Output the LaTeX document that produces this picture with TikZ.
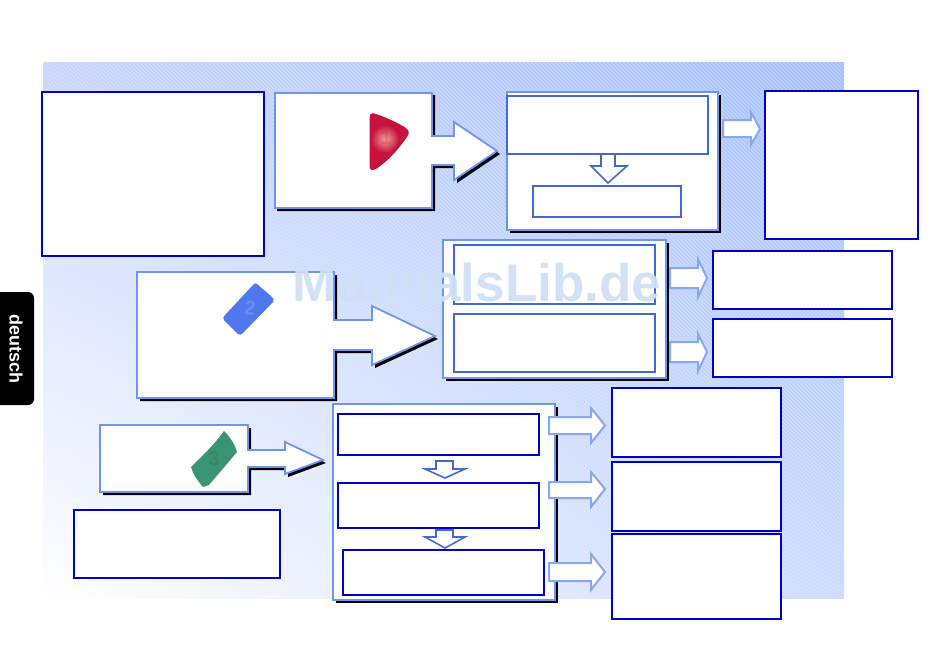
\documentclass[tikz,border=0pt]{standalone}
\usepackage{fontspec}
\setmainfont{Liberation Sans}
\usetikzlibrary{shadings}
\definecolor{panelblue}{HTML}{6E96EE}
\definecolor{smallblue}{HTML}{86A8F2}
\definecolor{innerblue}{HTML}{4468D8}
\definecolor{darkblue}{HTML}{0000C8}
\definecolor{wmpale}{HTML}{CFE0F6}
\definecolor{bgtl}{HTML}{C6D5FB}
\definecolor{bgtr}{HTML}{A6BFFA}
\definecolor{bgbr}{HTML}{CBD9FC}
\definecolor{redgem}{HTML}{C8123E}
\definecolor{redglow}{HTML}{EDA098}
\definecolor{bluegem}{HTML}{4F78F0}
\definecolor{greengem}{HTML}{3A9472}
\tikzset{
  darkbox/.style={draw=darkblue,line width=1.8pt,fill=white,inner sep=0pt,outer sep=0pt},
  innerbox/.style={draw=innerblue,line width=1.8pt,fill=white,inner sep=0pt,outer sep=0pt},
  panelbox/.style={draw=panelblue,line width=1.8pt,fill=white,inner sep=0pt,outer sep=0pt},
  arrowline/.style={draw=panelblue,line width=1.8pt,fill=white,line join=miter},
  smallarrow/.style={draw=smallblue,line width=2pt,fill=white,line join=miter},
  downarrow/.style={draw=innerblue,line width=1.6pt,fill=white,line join=miter},
  gemnum/.style={font=\bfseries\fontsize{20}{20}\selectfont,inner sep=0pt},
}
\newcommand{\bx}[6]{% style,name,x1,y1,x2,y2
  \pgfmathsetmacro{\bxw}{#5-#3}\pgfmathsetmacro{\bxh}{#6-#4}
  \node[#1,minimum width=\bxw pt,minimum height=\bxh pt,anchor=north west] (#2) at (#3,#4) {};}
\newcommand{\panelb}[5]{% name,x1,y1,x2,y2
  \fill[black] (#2+3,#3+3) rectangle (#4+3,#5+3);
  \bx{panelbox}{#1}{#2}{#3}{#4}{#5}}
\begin{document}
\begin{tikzpicture}[x=1pt,y=-1pt]
\useasboundingbox (0,0) rectangle (950,670);
% background
\shade[upper left=bgtl,upper right=bgtr,lower left=white,lower right=bgbr] (43,62) rectangle (844,598);
\begin{scope}
  \clip (43,62) rectangle (844,598);
  \foreach \k in {0,4,...,1340}{
    \draw[white,opacity=0.3,line width=1pt] (43+\k-536,62) -- (43+\k,598);
  }
\end{scope}
% tab
\fill[black,rounded corners=6pt] (-8,292) rectangle (34,405);
\node[rotate=-90,text=white,font=\bfseries\fontsize{18}{18}\selectfont,inner sep=0pt] (tabtext) at (16,349) {deutsch};
% text boxes
\bx{darkbox}{leftbox}{42}{92}{264}{256}
\bx{darkbox}{lowbox}{74}{510}{280}{578}
\bx{darkbox}{rightone}{765}{91}{918}{239}
\bx{darkbox}{righttwo}{713}{251}{892}{309}
\bx{darkbox}{rightthree}{713}{319}{892}{377}
\bx{darkbox}{resone}{612}{388}{781}{457}
\bx{darkbox}{restwo}{612}{462}{781}{531}
\bx{darkbox}{resthree}{612}{534}{781}{619}
% big arrow 1
\fill[black] (277,95)--(435,95)--(435,139)--(457,139)--(457,125)--(500,154)--(457,183)--(457,168)--(435,168)--(435,211)--(277,211)--cycle;
\draw[arrowline] (275,93)--(432,93)--(432,136)--(454,136)--(454,122)--(497,151)--(454,180)--(454,165)--(432,165)--(432,208)--(275,208)--cycle;
% big arrow 2
\fill[black] (140,275)--(337,275)--(337,323)--(375,323)--(375,309)--(438,339)--(375,368)--(375,353)--(337,353)--(337,401)--(140,401)--cycle;
\draw[arrowline] (137,272)--(334,272)--(334,320)--(372,320)--(372,306)--(435,336)--(372,365)--(372,350)--(334,350)--(334,398)--(137,398)--cycle;
% big arrow 3
\fill[black] (103,428)--(251,428)--(251,453)--(288,453)--(288,445)--(326,463)--(288,477)--(288,470)--(251,470)--(251,495)--(103,495)--cycle;
\draw[arrowline] (100,425)--(248,425)--(248,450)--(285,450)--(285,442)--(323,460)--(285,474)--(285,467)--(248,467)--(248,492)--(100,492)--cycle;
% gems
\fill[redgem] (369.5,118) .. controls (369.5,113) and (372,112.5) .. (376,114) .. controls (388,118) and (400,124) .. (406,128) .. controls (410,131) and (409,134) .. (407,137) .. controls (398,150) and (388,161) .. (376,169) .. controls (372,171) and (369.5,170) .. (369.5,166) -- cycle;
\shade[inner color=redglow,outer color=redgem] (385,139) circle (14);
\node[gemnum,text=redgem,opacity=0.22] (gemone) at (386,138) {1};
\fill[bluegem] (253,285) .. controls (254,283) and (255,283) .. (257,284) -- (272,297) .. controls (274,299) and (274,300) .. (273,302) -- (243,333) .. controls (241,335) and (240,335) .. (238,334) -- (224,320) .. controls (223,318) and (223,317) .. (225,315) -- cycle;
\node[gemnum,text=white,opacity=0.15,rotate=-5] (gemtwo) at (250,308) {2};
\fill[greengem] (224,431) .. controls (231,438) and (235,445) .. (237,452) -- (209,485) -- (203,487) .. controls (197,480) and (193,474) .. (191,467) .. controls (203,455) and (214,445) .. (224,431) -- cycle;
\node[gemnum,text=black,opacity=0.08] (gemthree) at (214,459) {3};
% panels
\panelb{panelone}{507}{92}{718}{230}
\bx{innerbox}{ponea}{507}{96}{708}{154}
\bx{innerbox}{poneb}{533}{186}{681}{217}
\draw[downarrow] (601,154)--(615,154)--(615,166)--(627,166)--(608,183)--(591,166)--(601,166)--cycle;
\panelb{paneltwo}{443}{240}{666}{378}
\bx{innerbox}{ptwoa}{454}{245}{655}{304}
\bx{innerbox}{ptwob}{454}{314}{655}{372}
\panelb{panelthree}{333}{404}{555}{600}
\bx{darkbox}{pthreea}{338}{414}{539}{455}
\bx{darkbox}{pthreeb}{338}{483}{539}{528}
\bx{darkbox}{pthreec}{343}{550}{544}{595}
\draw[downarrow] (436,461)--(453,461)--(453,469)--(465,469)--(445,478)--(425,469)--(436,469)--cycle;
\draw[downarrow] (436,530)--(453,530)--(453,537)--(465,537)--(445,548)--(425,537)--(436,537)--cycle;
% small arrows
\draw[smallarrow] (723,120)--(751,120)--(751,112)--(760,129)--(751,145)--(751,137)--(723,137)--cycle;
\draw[smallarrow] (670,268)--(698,268)--(698,259)--(707,278)--(698,297)--(698,288)--(670,288)--cycle;
\draw[smallarrow] (670,342)--(698,342)--(698,334)--(707,352)--(698,371)--(698,362)--(670,362)--cycle;
\draw[smallarrow] (549,417)--(591,417)--(591,408)--(605,425.5)--(591,443)--(591,434)--(549,434)--cycle;
\draw[smallarrow] (549,482)--(591,482)--(591,472)--(605,489)--(591,507)--(591,498)--(549,498)--cycle;
\draw[smallarrow] (549,563)--(591,563)--(591,554)--(605,572)--(591,590)--(591,581)--(549,581)--cycle;
% watermark
\node[text=wmpale,opacity=0.95,font=\bfseries\fontsize{53}{53}\selectfont,inner sep=0pt,anchor=base] (watermark) at (477,301) {ManualsLib.de};
\end{tikzpicture}
\end{document}
